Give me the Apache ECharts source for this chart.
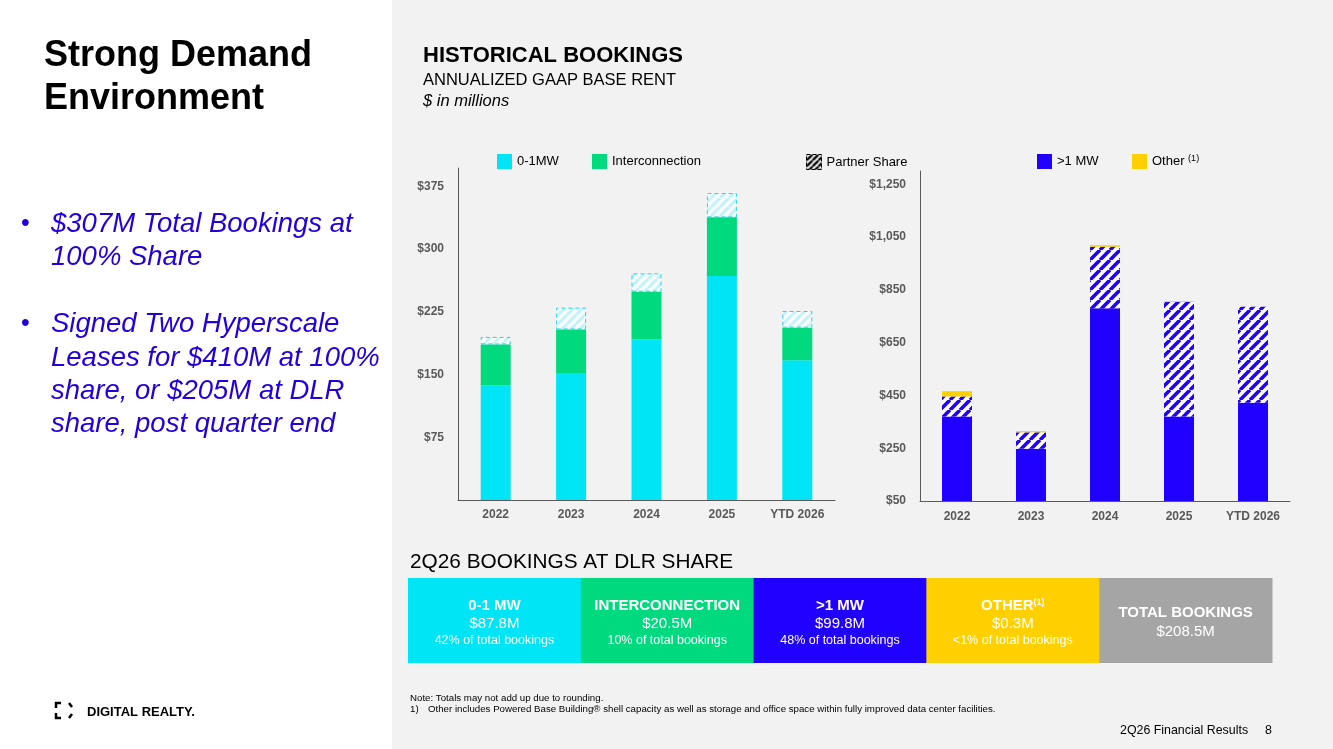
<!DOCTYPE html>
<html>
<head>
<meta charset="utf-8">
<script src="https://cdn.jsdelivr.net/npm/echarts@6/dist/echarts.min.js"></script>
<style>
  html, body { margin: 0; padding: 0; background: #f2f2f2; }
  #chart { width: 1333px; height: 749px; }
</style>
</head>
<body>
<div id="chart"></div>
<script>
// data ($ in millions)
const categories = ['2022', '2023', '2024', '2025', 'YTD 2026'];
const small0to1 = [137, 152, 192, 268, 167];
const interconnection = [49, 52, 57, 70, 39];
const partnerSmall = [9, 26, 22, 29, 20];
const large = [370, 248, 780, 370, 422];
const partnerLarge = [76, 62, 233, 434, 364];
const other = [20, 5, 6, 3, 0];
const leftTicks = [75, 150, 225, 300, 375];
const rightTicks = [50, 250, 450, 650, 850, 1050, 1250];

// 2Q26 boxes
const boxNames = ['0-1 MW', 'INTERCONNECTION', '>1 MW', 'OTHER', 'TOTAL BOOKINGS'];
const boxValues = ['$87.8M', '$20.5M', '$99.8M', '$0.3M', '$208.5M'];
const boxShares = ['42% of total bookings', '10% of total bookings', '48% of total bookings', '<1% of total bookings', ''];

const FONT = '"Liberation Sans", Arial, Helvetica, sans-serif';
const CYAN = '#00e5f6';
const GREEN = '#00d97e';
const BLUE = '#2000ff';
const YELLOW = '#ffd000';
const GREY = '#a5a5a5';
const AXIS = '#595959';
const boxColors = [CYAN, GREEN, BLUE, YELLOW, GREY];

function hatch(bg, fg, size, width) {
  const c = document.createElement('canvas');
  c.width = c.height = size;
  const ctx = c.getContext('2d');
  ctx.fillStyle = bg;
  ctx.fillRect(0, 0, size, size);
  ctx.strokeStyle = fg;
  ctx.lineWidth = width;
  ctx.beginPath();
  [-size, 0, size].forEach(k => { ctx.moveTo(k, size); ctx.lineTo(k + size, 0); });
  ctx.stroke();
  return { image: c, repeat: 'repeat' };
}

const money = v => '$' + v.toLocaleString('en-US');

const chart = echarts.init(document.getElementById('chart'));

function valueAxis(idx, min, max, ticks) {
  return {
    type: 'value', gridIndex: idx, min: min, max: max,
    axisLine: { show: true, lineStyle: { color: AXIS, width: 1 } },
    axisTick: { show: false },
    splitLine: { show: false },
    axisLabel: {
      customValues: ticks, margin: 14, formatter: money,
      color: AXIS, fontFamily: FONT, fontSize: 12, fontWeight: 'bold'
    }
  };
}
function catAxis(idx, margin) {
  return {
    type: 'category', gridIndex: idx, data: categories,
    axisLine: { lineStyle: { color: AXIS, width: 1 } },
    axisTick: { show: false },
    axisLabel: { margin: margin, color: AXIS, fontFamily: FONT, fontSize: 12, fontWeight: 'bold', interval: 0 }
  };
}

const legendBase = {
  icon: 'rect', itemWidth: 15, itemHeight: 15, top: 149, selectedMode: false,
  textStyle: { fontFamily: FONT, fontSize: 13, color: '#000' }
};

const T = (text, x, y, font, extra) => ({ type: 'text', style: Object.assign({ text: text, x: x, y: y, font: font, fill: '#000', textVerticalAlign: 'middle' }, extra || {}) });

// white left panel + texts
const graphics = [
  { type: 'rect', shape: { x: 0, y: 0, width: 392, height: 749 }, style: { fill: '#fff' }, z: -10 },
  T('Strong Demand', 44, 56, 'bold 36px ' + FONT),
  T('Environment', 44, 99, 'bold 36px ' + FONT),
  T('HISTORICAL BOOKINGS', 423, 56, 'bold 22px ' + FONT),
  T('ANNUALIZED GAAP BASE RENT', 423, 80, '16.5px ' + FONT),
  T('$ in millions', 423, 101, 'italic 16.5px ' + FONT),
  T('2Q26 BOOKINGS AT DLR SHARE', 410, 562, '20.8px ' + FONT),
  T('Note: Totals may not add up due to rounding.', 410, 698, '9.7px ' + FONT),
  T('1)', 410, 709, '9.7px ' + FONT),
  T('Other includes Powered Base Building\u00ae shell capacity as well as storage and office space within fully improved data center facilities.', 428, 709, '9.7px ' + FONT),
  T('2Q26 Financial Results', 1120, 731, '12.4px ' + FONT),
  T('8', 1265, 731, '12.4px ' + FONT),
  // logo
  { type: 'polyline', shape: { points: [[56, 708], [56, 703], [61, 703]] }, style: { stroke: '#000', lineWidth: 2.5, fill: null } },
  { type: 'polyline', shape: { points: [[56, 713], [56, 718], [61, 718]] }, style: { stroke: '#000', lineWidth: 2.5, fill: null } },
  { type: 'polyline', shape: { points: [[69, 703], [72, 707]] }, style: { stroke: '#000', lineWidth: 2.5, fill: null } },
  { type: 'polyline', shape: { points: [[72, 714], [69, 718]] }, style: { stroke: '#000', lineWidth: 2.5, fill: null } },
  T('DIGITAL REALTY.', 87, 712, 'bold 13px ' + FONT)
];

// bullets
const bulletLines = [
  ['\u2022', '$307M Total Bookings at', 224],
  ['', '100% Share', 257],
  ['\u2022', 'Signed Two Hyperscale', 324],
  ['', 'Leases for $410M at 100%', 358],
  ['', 'share, or $205M at DLR', 391],
  ['', 'share, post quarter end', 424]
];
bulletLines.forEach(b => {
  if (b[0]) graphics.push(T(b[0], 21, b[2], '25px ' + FONT, { fill: '#2200dd' }));
  graphics.push(T(b[1], 51, b[2], 'italic 27.5px ' + FONT, { fill: '#2200dd' }));
});

// bottom boxes
const boxX0 = 408, boxW = 172.8, boxY = 578, boxH = 85;
boxNames.forEach((name, i) => {
  const cx = boxX0 + boxW * i + boxW / 2;
  graphics.push({ type: 'rect', shape: { x: boxX0 + boxW * i, y: boxY, width: boxW + 0.5, height: boxH }, style: { fill: boxColors[i] } });
  const last = i === boxNames.length - 1;
  const title = name === 'OTHER' ? '{b|OTHER}{s|(1)}' : '{b|' + name + '}';
  graphics.push({ type: 'text', style: {
    text: title, x: cx, y: last ? 613 : 606, textAlign: 'center', textVerticalAlign: 'middle', fill: '#fff',
    rich: { b: { font: 'bold 15px ' + FONT, fill: '#fff' }, s: { font: 'bold 9px ' + FONT, fill: '#fff', verticalAlign: 'top', padding: [0, 0, 6, 0] } }
  } });
  graphics.push({ type: 'text', style: { text: boxValues[i], x: cx, y: last ? 632 : 623.5, textAlign: 'center', textVerticalAlign: 'middle', font: '15px ' + FONT, fill: '#fff' } });
  if (boxShares[i]) graphics.push({ type: 'text', style: { text: boxShares[i], x: cx, y: 640.5, textAlign: 'center', textVerticalAlign: 'middle', font: '12.5px ' + FONT, fill: '#fff' } });
});

const paleHatch = hatch('#f7fdfe', '#c4f1f7', 9, 3);
const blueHatch = hatch('#ffffff', BLUE, 10, 3.6);
const legendHatch = hatch('#ffffff', '#000000', 6, 2.4);

chart.setOption({
  backgroundColor: '#f2f2f2',
  animation: false,
  textStyle: { fontFamily: FONT },
  grid: [
    { left: 458, right: 498, top: 168, bottom: 249 },
    { left: 920, right: 43, top: 171, bottom: 248 }
  ],
  xAxis: [catAxis(0, 9), catAxis(1, 10)],
  yAxis: [valueAxis(0, 0, 397, leftTicks), valueAxis(1, 50, 1300, rightTicks)],
  legend: [
    Object.assign({}, legendBase, { left: 492, data: ['0-1MW'] }),
    Object.assign({}, legendBase, { left: 587, data: ['Interconnection'] }),
    Object.assign({}, legendBase, { left: 801, data: [{ name: 'Partner Share', itemStyle: { color: legendHatch, borderColor: '#000', borderWidth: 1, borderType: 'dashed' } }] }),
    Object.assign({}, legendBase, { left: 1032, data: ['>1 MW'] }),
    Object.assign({}, legendBase, {
      left: 1127, data: ['Other'],
      formatter: '{n|Other} {s|(1)}',
      textStyle: { fontFamily: FONT, fontSize: 13, color: '#000', rich: { n: { fontFamily: FONT, fontSize: 13, color: '#000' }, s: { fontFamily: FONT, fontSize: 9, color: '#000', verticalAlign: 'top', padding: [0, 0, 6, 0] } } }
    })
  ],
  graphic: { elements: graphics },
  series: [
    { name: '0-1MW', type: 'bar', stack: 'l', xAxisIndex: 0, yAxisIndex: 0, barWidth: 30, data: small0to1, itemStyle: { color: CYAN } },
    { name: 'Interconnection', type: 'bar', stack: 'l', xAxisIndex: 0, yAxisIndex: 0, barWidth: 30, data: interconnection, itemStyle: { color: GREEN } },
    { name: 'Partner Share', type: 'bar', stack: 'l', xAxisIndex: 0, yAxisIndex: 0, barWidth: 30, data: partnerSmall,
      itemStyle: { color: paleHatch, borderColor: '#2fd3e6', borderWidth: 1, borderType: [4, 3] } },
    { name: '>1 MW', type: 'bar', stack: 'r', xAxisIndex: 1, yAxisIndex: 1, barWidth: 30, data: large, itemStyle: { color: BLUE } },
    { name: 'Partner Share', type: 'bar', stack: 'r', xAxisIndex: 1, yAxisIndex: 1, barWidth: 30, data: partnerLarge,
      itemStyle: { color: blueHatch } },
    { name: 'Other', type: 'bar', stack: 'r', xAxisIndex: 1, yAxisIndex: 1, barWidth: 30, data: other, itemStyle: { color: YELLOW } }
  ]
});
</script>
</body>
</html>
